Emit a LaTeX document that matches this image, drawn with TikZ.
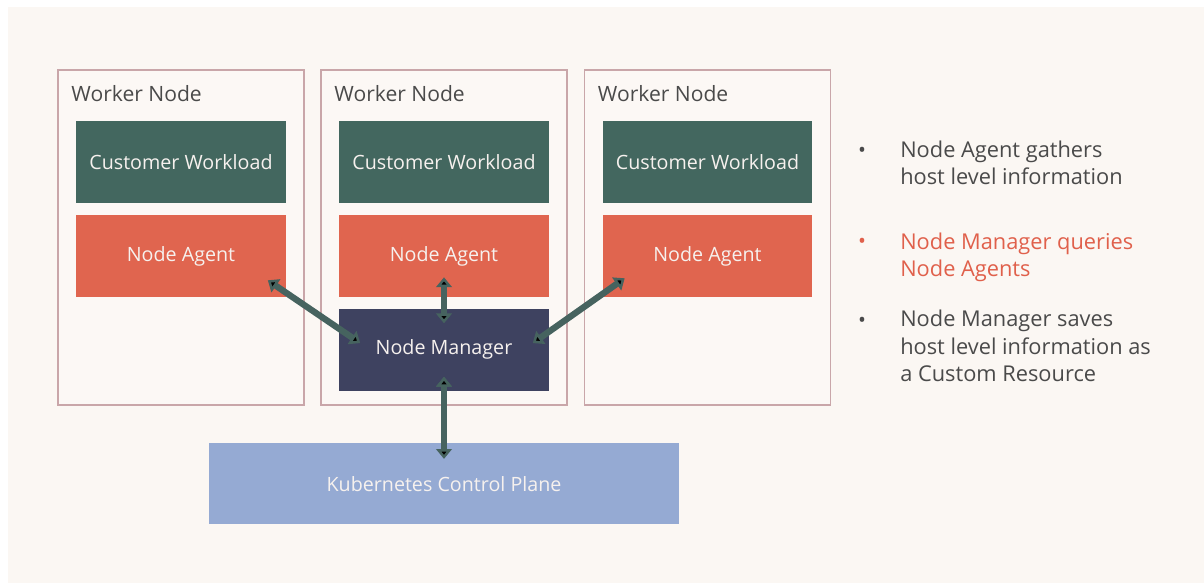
\documentclass[tikz,border=0pt]{standalone}
\usepackage{fontspec}
\setmainfont{Open Sans}
\usetikzlibrary{positioning,calc,arrows.meta}

\definecolor{bgcol}{HTML}{FBF7F3}
\definecolor{workerline}{HTML}{C9A6A9}
\definecolor{workerfill}{HTML}{FCF8F5}
\definecolor{workloadcol}{HTML}{43675F}
\definecolor{agentcol}{HTML}{E0654F}
\definecolor{managercol}{HTML}{3E4260}
\definecolor{planecol}{HTML}{95AAD3}
\definecolor{linkcol}{HTML}{46635F}
\definecolor{boxtext}{HTML}{F6F1EE}
\definecolor{notetext}{HTML}{4A4A4A}
\definecolor{notered}{HTML}{E0604B}

\begin{document}
\begin{tikzpicture}[x=0.025cm, y=-0.025cm, node distance=0.275cm,
    worker/.style={draw=workerline, line width=1.2pt, fill=workerfill,
        minimum width=6.15cm, minimum height=8.375cm, inner sep=0pt},
    title/.style={anchor=base west, inner sep=0pt, text=notetext, font=\fontsize{15}{18}\selectfont},
    box/.style={minimum width=5.225cm, minimum height=2.05cm, inner sep=0pt,
        text=boxtext, font=\fontsize{14}{17}\selectfont},
    workload/.style={box, fill=workloadcol},
    agent/.style={box, fill=agentcol},
    manager/.style={box, fill=managercol},
    plane/.style={box, fill=planecol, minimum width=11.75cm, minimum height=2.025cm},
    link/.style={draw=linkcol, line width=4.5pt,
        {Triangle[width=11pt,length=7pt]}-{Triangle[width=11pt,length=7pt]}},
    dot/.style={anchor=base, font=\fontsize{15}{18}\selectfont},
    note/.style={anchor=base west, align=left, inner sep=0pt, font=\fontsize{15.5}{19.7}\selectfont}]

    \fill[white] (0,0) rectangle (1204,583);
    \fill[bgcol] (8,7) rectangle (1204,583);
    \useasboundingbox (0,0) rectangle (1204,583);

    \node[worker] (w_1) at (181,237.5) {};
    \node[worker] (w_2) at (444,237.5) {};
    \node[worker] (w_3) at (707.5,237.5) {};

    \foreach \i in {1,2,3} {
        \node[title] (t_\i) at ($(w_\i.north west)+(14,32)$) {Worker Node};
        \node[workload] [below=1.3cm of w_\i.north] (c_\i) {Customer Workload};
        \node[agent] [below=of c_\i] (a_\i) {Node Agent};
    }

    \node[manager] [below=of a_2] (m) {Node Manager};
    \node[plane] [below=1.3cm of m] (k) {Kubernetes Control Plane};

    \path[link]
    ($(m.west)+(21,-6.5)$) edge ($(a_1.south east)+(-18,-17)$)
    ($(m.north)+(0,15)$) edge ($(a_2.south)+(0,-20)$)
    ($(m.east)+(-16,-6.5)$) edge ($(a_3.south west)+(22,-19)$)
    ($(m.south)+(0,-14)$) edge ($(k.north)+(0,16)$)
    ;

    % the notes are anchored on their last line
    \node[dot, text=notetext] (d_1) at (862,158) {\textbullet};
    \node[note, text=notetext] (n_1) at (900,185) {Node Agent gathers\\host level information};
    \node[dot, text=notered] (d_2) at (862,249) {\textbullet};
    \node[note, text=notered] (n_2) at (900,277) {Node Manager queries\\Node Agents};
    \node[dot, text=notetext] (d_3) at (862,327) {\textbullet};
    \node[note, text=notetext] (n_3) at (900,382) {Node Manager saves\\host level information as\\a Custom Resource};
\end{tikzpicture}
\end{document}
